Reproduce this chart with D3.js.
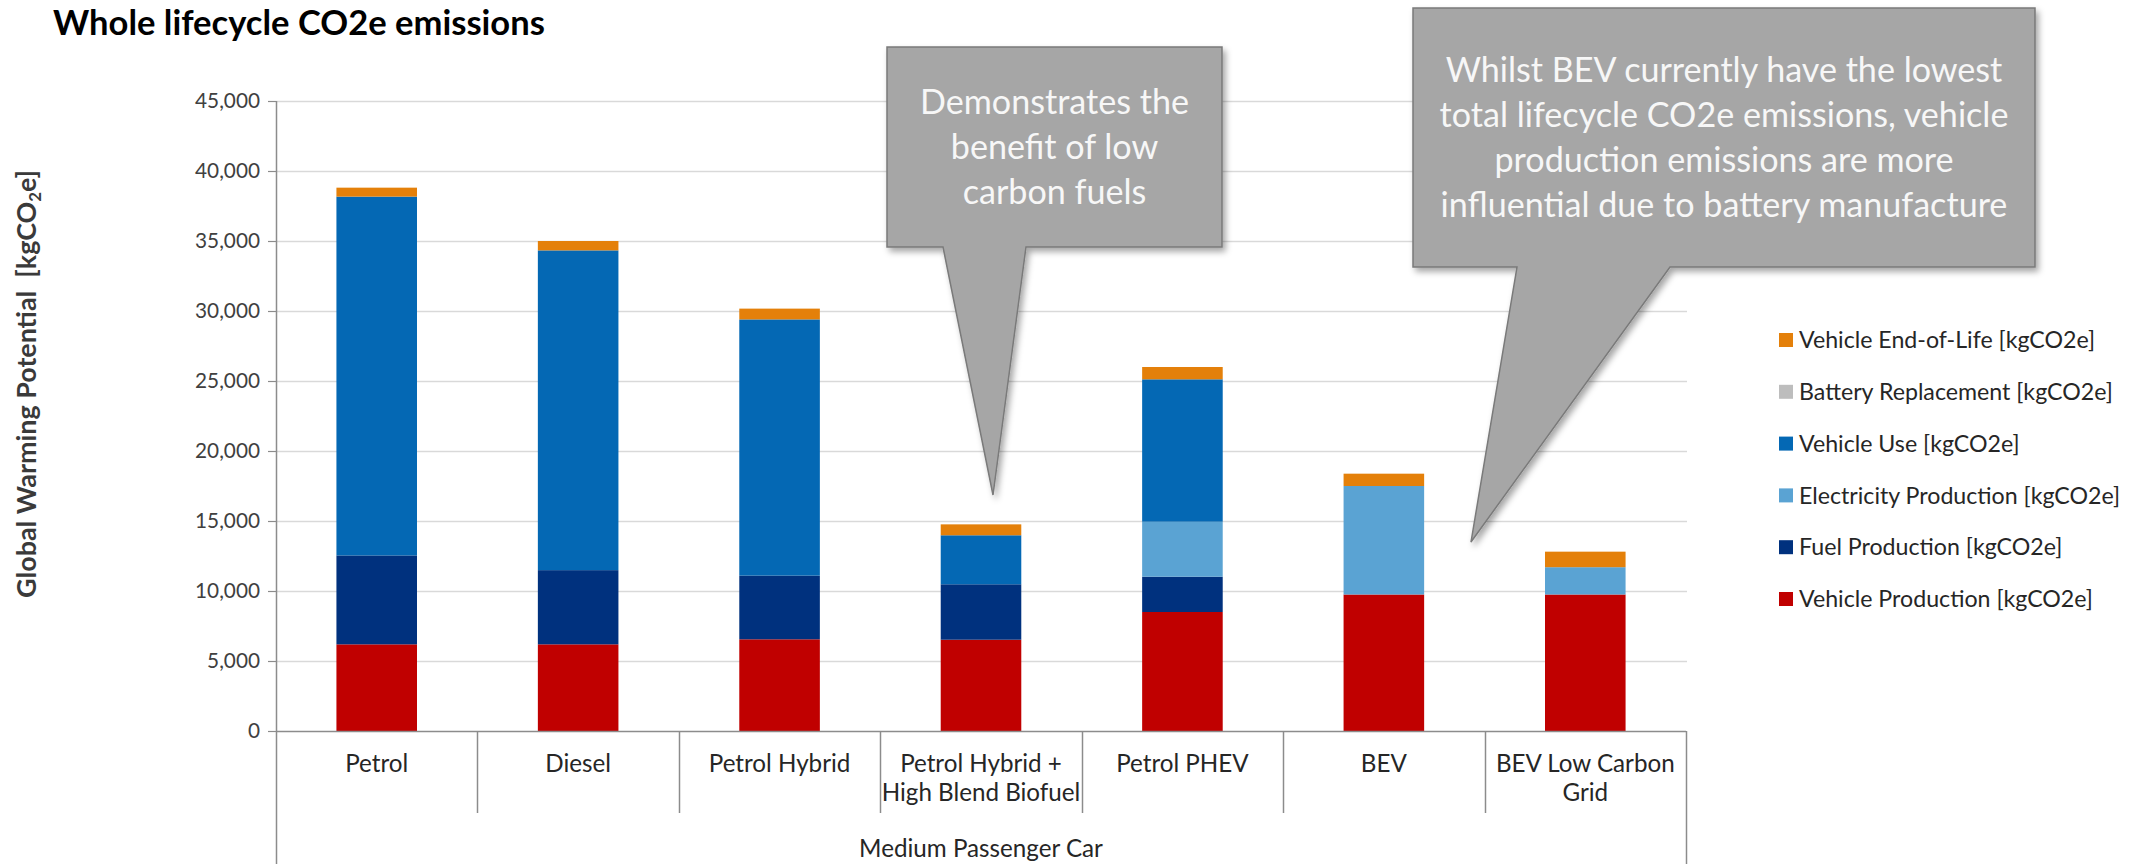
<!DOCTYPE html>
<html>
<head>
<meta charset="utf-8">
<script src="https://cdn.jsdelivr.net/npm/d3@7"></script>
<style>
  html, body { margin: 0; padding: 0; background: #ffffff; }
  svg { display: block; }
  text { font-family: Lato, "Open Sans", sans-serif; }
</style>
</head>
<body>
<svg id="chart" width="2138" height="864"></svg>
<script>
// Vehicle types (line breaks mark where the axis labels wrap)
const categories = [
  "Petrol",
  "Diesel",
  "Petrol Hybrid",
  "Petrol Hybrid +\nHigh Blend Biofuel",
  "Petrol PHEV",
  "BEV",
  "BEV Low Carbon\nGrid"
];
const groupLabel = "Medium Passenger Car";

// Lifecycle stages, kgCO2e per vehicle (stacked bottom to top)
const vehicleProduction     = [6190, 6190, 6550, 6520, 8500, 9750, 9750];
const fuelProduction        = [6350, 5300, 4550, 3960, 2520,    0,    0];
const electricityProduction = [   0,    0,    0,    0, 3930, 7750, 1950];
const vehicleUse            = [25630, 22840, 18300, 3500, 10170,  0,   0];
const batteryReplacement    = [   0,    0,    0,    0,    0,    0,    0];
const vehicleEndOfLife      = [ 640,  670,  770,  780,  880,  880, 1110];

const seriesNames = [
  "Vehicle Production [kgCO2e]",
  "Fuel Production [kgCO2e]",
  "Electricity Production [kgCO2e]",
  "Vehicle Use [kgCO2e]",
  "Battery Replacement [kgCO2e]",
  "Vehicle End-of-Life [kgCO2e]"
];
const seriesColors = ["#c00000", "#00317e", "#5aa3d3", "#0468b4", "#bdbdbd", "#e4800a"];
const seriesValues = [vehicleProduction, fuelProduction, electricityProduction,
                      vehicleUse, batteryReplacement, vehicleEndOfLife];

const yTicks = [0, 5000, 10000, 15000, 20000, 25000, 30000, 35000, 40000, 45000];

const title = "Whole lifecycle CO2e emissions";
const callouts = [
  { lines: ["Demonstrates the", "benefit of low", "carbon fuels"] },
  { lines: ["Whilst BEV currently have the lowest",
            "total lifecycle CO2e emissions, vehicle",
            "production emissions are more",
            "influential due to battery manufacture"] }
];

// ---------- layout ----------
const plot = { left: 276, right: 1686, top: 101, bottom: 731 };
const svg = d3.select("#chart");

const x = d3.scaleBand()
  .domain(categories)
  .range([plot.left, plot.right])
  .paddingInner(0.6)
  .paddingOuter(0.3);

const y = d3.scaleLinear()
  .domain([0, 45000])
  .range([plot.bottom, plot.top]);

// scale a text's font size so that it spans the given width
function fitWidth(sel, width) {
  const w = sel.node().getComputedTextLength();
  const fs = parseFloat(sel.attr("font-size"));
  const nfs = fs * width / w;
  sel.attr("font-size", nfs);
  return nfs;
}

const defs = svg.append("defs");
const shadow = defs.append("filter").attr("id", "shadow")
  .attr("x", "-10%").attr("y", "-10%").attr("width", "130%").attr("height", "130%");
shadow.append("feDropShadow")
  .attr("dx", 3).attr("dy", 4).attr("stdDeviation", 3)
  .attr("flood-color", "#000").attr("flood-opacity", 0.35);

// ---------- title ----------
const titleText = svg.append("text")
  .attr("x", 53).attr("y", 35)
  .attr("font-size", 28).attr("font-weight", "bold").attr("fill", "#000")
  .text(title);
fitWidth(titleText, 492);

// ---------- gridlines ----------
svg.append("g")
  .selectAll("line")
  .data(yTicks.filter(d => d > 0))
  .join("line")
  .attr("x1", plot.left).attr("x2", plot.right + 1)
  .attr("y1", d => Math.round(y(d)) + 0.5).attr("y2", d => Math.round(y(d)) + 0.5)
  .attr("stroke", "#d9d9d9").attr("stroke-width", 1.5);

// ---------- stacked bars ----------
const rows = categories.map((c, i) => {
  const r = { category: c };
  seriesNames.forEach((s, k) => { r[s] = seriesValues[k][i]; });
  return r;
});
const stacked = d3.stack().keys(seriesNames)(rows);

svg.append("g")
  .selectAll("g")
  .data(stacked)
  .join("g")
  .attr("fill", (d, k) => seriesColors[k])
  .selectAll("rect")
  .data(d => d.filter(p => p[1] - p[0] > 0))
  .join("rect")
  .attr("x", d => x(d.data.category))
  .attr("width", x.bandwidth())
  .attr("y", d => y(d[1]))
  .attr("height", d => y(d[0]) - y(d[1]));

// ---------- y axis ----------
const yAxis = svg.append("g")
  .attr("transform", `translate(${plot.left},0)`)
  .call(d3.axisLeft(y).tickValues(yTicks).tickSize(8).tickPadding(8)
    .tickFormat(d3.format(",")));
yAxis.select(".domain").remove();
yAxis.selectAll(".tick line").attr("stroke", "#8c8c8c").attr("stroke-width", 1.2);
yAxis.selectAll(".tick text")
  .attr("fill", "#404040").attr("font-family", "Lato, sans-serif").attr("font-size", 22);
{
  const top = yAxis.selectAll(".tick text").filter(d => d === 45000);
  const fs = fitWidth(top, 65);
  yAxis.selectAll(".tick text").attr("font-size", fs);
}

// left axis line runs down through the category area
svg.append("line")
  .attr("x1", plot.left + 0.5).attr("x2", plot.left + 0.5)
  .attr("y1", plot.top).attr("y2", 864)
  .attr("stroke", "#8c8c8c").attr("stroke-width", 1.5);

// y axis title with subscript
const yTitle = svg.append("text")
  .attr("transform", "translate(36,384) rotate(-90)")
  .attr("text-anchor", "middle")
  .attr("font-size", 24).attr("font-weight", "bold").attr("fill", "#3a3a3a")
  .style("white-space", "pre");
yTitle.append("tspan").text("Global Warming Potential  [kgCO");
yTitle.append("tspan").attr("font-size", "0.62em").attr("dy", "0.3em").text("2");
yTitle.append("tspan").attr("dy", "-0.186em").text("e]");
fitWidth(yTitle, 428);

// ---------- x axis ----------
svg.append("line")
  .attr("x1", plot.left).attr("x2", plot.right)
  .attr("y1", plot.bottom + 0.5).attr("y2", plot.bottom + 0.5)
  .attr("stroke", "#8c8c8c").attr("stroke-width", 1.5);

const step = x.step();
const bounds = categories.map((c, i) => plot.left + step * (i + 1));
svg.append("g")
  .selectAll("line")
  .data(bounds)
  .join("line")
  .attr("x1", d => Math.round(d) + 0.5).attr("x2", d => Math.round(d) + 0.5)
  .attr("y1", plot.bottom)
  .attr("y2", (d, i) => i === bounds.length - 1 ? 864 : 813)
  .attr("stroke", "#8c8c8c").attr("stroke-width", 1.5);

const catG = svg.append("g");
const catLabels = catG.selectAll("text")
  .data(categories)
  .join("text")
  .attr("x", d => x(d) + x.bandwidth() / 2)
  .attr("y", 772)
  .attr("text-anchor", "middle")
  .attr("font-size", 22).attr("fill", "#262626");
catLabels.selectAll("tspan")
  .data(d => d.split("\n"))
  .join("tspan")
  .attr("x", function () { return d3.select(this.parentNode).attr("x"); })
  .attr("dy", (d, i) => i === 0 ? 0 : 29)
  .text(d => d);
{
  const fs = fitWidth(catLabels.filter(d => d === "Petrol"), 63);
  catLabels.attr("font-size", fs);
  svg.append("text")
    .attr("x", (plot.left + plot.right) / 2).attr("y", 857)
    .attr("text-anchor", "middle")
    .attr("font-size", fs).attr("fill", "#262626")
    .text(groupLabel);
}

// ---------- legend ----------
const legend = svg.append("g");
const legendOrder = d3.range(seriesNames.length).reverse();
const legendItems = legend.selectAll("g")
  .data(legendOrder)
  .join("g")
  .attr("transform", (k, i) => `translate(1779,${340 + i * 51.8})`);
legendItems.append("rect")
  .attr("x", 0).attr("y", -7).attr("width", 14).attr("height", 14)
  .attr("fill", k => seriesColors[k]);
const legendTexts = legendItems.append("text")
  .attr("x", 20).attr("y", 0).attr("dy", "0.35em")
  .attr("font-size", 22).attr("fill", "#262626")
  .text(k => seriesNames[k]);
{
  const fs = fitWidth(legendTexts.filter(k => seriesNames[k].startsWith("Battery")), 314);
  legendTexts.attr("font-size", fs);
}

// ---------- callouts ----------
const calloutShapes = [
  { box: [887, 47, 1222, 247], base: [943, 1026], tip: [993, 495] },
  { box: [1413, 8, 2035, 267], base: [1517, 1670], tip: [1471, 542] }
];
const calloutG = svg.append("g");
let calloutFont = 28;
{
  const probe = calloutG.append("text").attr("font-size", 28).text(callouts[1].lines[0]);
  calloutFont = fitWidth(probe, 557);
  probe.remove();
}
calloutShapes.forEach((s, i) => {
  const [x0, y0, x1, y1] = s.box;
  const p = d3.path();
  p.moveTo(x0, y0); p.lineTo(x1, y0); p.lineTo(x1, y1);
  p.lineTo(s.base[1], y1); p.lineTo(s.tip[0], s.tip[1]); p.lineTo(s.base[0], y1);
  p.lineTo(x0, y1); p.closePath();
  calloutG.append("path")
    .attr("d", p.toString())
    .attr("fill", "#a6a6a6").attr("stroke", "#7a7a7a").attr("stroke-width", 1.5)
    .attr("filter", "url(#shadow)");
  const lines = callouts[i].lines;
  const lh = 45;
  const cx = (x0 + x1) / 2;
  const cy = (y0 + y1) / 2;
  const firstBaseline = cy - (lines.length - 1) * lh / 2 + calloutFont * 0.36;
  calloutG.append("text")
    .attr("text-anchor", "middle")
    .attr("font-size", calloutFont).attr("fill", "#f7f7f7")
    .selectAll("tspan")
    .data(lines)
    .join("tspan")
    .attr("x", cx)
    .attr("y", (d, j) => firstBaseline + j * lh)
    .text(d => d);
});
</script>
</body>
</html>
